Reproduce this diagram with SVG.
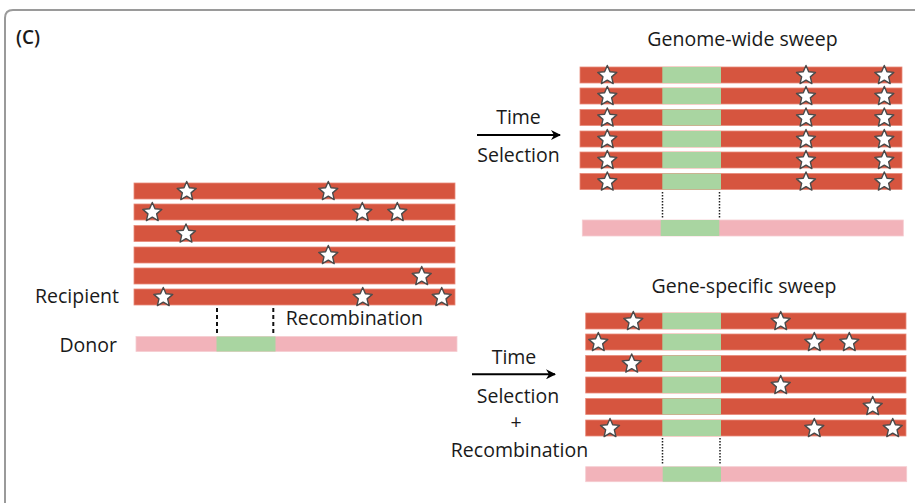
<svg xmlns="http://www.w3.org/2000/svg" xmlns:xlink="http://www.w3.org/1999/xlink" width="915" height="503" viewBox="0 0 915 503">
<style>
.t{font-family:"Open Sans","Noto Sans","DejaVu Sans",sans-serif;font-size:19.5px;fill:#1a1a1a}
.red{fill:#d6553f;stroke:#e88a7a;stroke-width:0.8}
.grn{fill:#a9d5a1}
.pink{fill:#f2b3ba;stroke:#f6ccd1;stroke-width:0.8}
.star{fill:#fff;stroke:#4a4a4a;stroke-width:1.4;stroke-linejoin:round}
.dash{stroke:#111;stroke-width:2;stroke-dasharray:4 3;fill:none}
.dot{stroke:#222;stroke-width:1.5;stroke-dasharray:1.5 1.5;fill:none}
.arr{stroke:#000;stroke-width:2;fill:none}
</style>
<defs>
<path id="s" class="star" d="M0,-10 L2.7,-3.7 L9.5,-3.1 L4.35,1.4 L5.9,8.1 L0,4.6 L-5.9,8.1 L-4.35,1.4 L-9.5,-3.1 L-2.7,-3.7 Z"/>
<marker id="ah" markerWidth="10" markerHeight="10" refX="9" refY="5" orient="auto" markerUnits="userSpaceOnUse" viewBox="0 0 10 10">
<path d="M0,0 L10,5 L0,10 L3,5 Z" fill="#000"/>
</marker>
</defs>
<rect width="915" height="503" fill="#fff"/>
<path d="M5,503 V18 Q5,10 13,10 H915" fill="none" stroke="#9a9a9a" stroke-width="2"/>
<text class="t" x="16" y="44" style="font-size:19px;font-weight:600">(C)</text>

<g id="recipient">
<rect class="red" x="134" y="183" width="321" height="16"/>
<rect class="red" x="134" y="204" width="321" height="16"/>
<rect class="red" x="134" y="225.5" width="321" height="16"/>
<rect class="red" x="134" y="247" width="321" height="16"/>
<rect class="red" x="134" y="268" width="321" height="16"/>
<rect class="red" x="134" y="289" width="321" height="16"/>
<use xlink:href="#s" x="186.7" y="191.5"/>
<use xlink:href="#s" x="328.3" y="191.5"/>
<use xlink:href="#s" x="152.3" y="212.5"/>
<use xlink:href="#s" x="362.3" y="212.5"/>
<use xlink:href="#s" x="397.3" y="212.5"/>
<use xlink:href="#s" x="186" y="234"/>
<use xlink:href="#s" x="328.3" y="255.5"/>
<use xlink:href="#s" x="421.7" y="276.5"/>
<use xlink:href="#s" x="163.3" y="297.5"/>
<use xlink:href="#s" x="362.7" y="297.5"/>
<use xlink:href="#s" x="441.7" y="297.5"/>
<text class="t" x="119" y="303" text-anchor="end">Recipient</text>
</g>

<g id="donor">
<rect class="pink" x="136" y="336.5" width="321" height="15"/>
<rect class="grn" x="216.5" y="336.5" width="59" height="15"/>
<text class="t" x="117" y="352" text-anchor="end">Donor</text>
</g>

<g id="genome-wide">
<text class="t" x="742.5" y="46" text-anchor="middle">Genome-wide sweep</text>
<g>
<rect class="red" x="580" y="67" width="322" height="16"/>
<rect class="red" x="580" y="88" width="322" height="16"/>
<rect class="red" x="580" y="109.5" width="322" height="16"/>
<rect class="red" x="580" y="131" width="322" height="16"/>
<rect class="red" x="580" y="152" width="322" height="16"/>
<rect class="red" x="580" y="173.5" width="322" height="16"/>
<rect class="grn" x="662.3" y="67" width="58.7" height="16"/>
<rect class="grn" x="662.3" y="88" width="58.7" height="16"/>
<rect class="grn" x="662.3" y="109.5" width="58.7" height="16"/>
<rect class="grn" x="662.3" y="131" width="58.7" height="16"/>
<rect class="grn" x="662.3" y="152" width="58.7" height="16"/>
<rect class="grn" x="662.3" y="173.5" width="58.7" height="16"/>
</g>
<g>
<use xlink:href="#s" x="607.3" y="75.5"/><use xlink:href="#s" x="806" y="75.5"/><use xlink:href="#s" x="884.3" y="75.5"/>
<use xlink:href="#s" x="607.3" y="96.5"/><use xlink:href="#s" x="806" y="96.5"/><use xlink:href="#s" x="884.3" y="96.5"/>
<use xlink:href="#s" x="607.3" y="118"/><use xlink:href="#s" x="806" y="118"/><use xlink:href="#s" x="884.3" y="118"/>
<use xlink:href="#s" x="607.3" y="139.5"/><use xlink:href="#s" x="806" y="139.5"/><use xlink:href="#s" x="884.3" y="139.5"/>
<use xlink:href="#s" x="607.3" y="160.5"/><use xlink:href="#s" x="806" y="160.5"/><use xlink:href="#s" x="884.3" y="160.5"/>
<use xlink:href="#s" x="607.3" y="182"/><use xlink:href="#s" x="806" y="182"/><use xlink:href="#s" x="884.3" y="182"/>
</g>
<rect class="pink" x="582.3" y="220" width="321" height="16"/>
<rect class="grn" x="660.7" y="220" width="58.6" height="16"/>
</g>

<g id="gene-specific">
<text class="t" x="744" y="293" text-anchor="middle">Gene-specific sweep</text>
<g>
<rect class="red" x="585.7" y="313" width="320.3" height="16"/>
<rect class="red" x="585.7" y="334" width="320.3" height="16"/>
<rect class="red" x="585.7" y="355.5" width="320.3" height="16"/>
<rect class="red" x="585.7" y="377" width="320.3" height="16"/>
<rect class="red" x="585.7" y="398.5" width="320.3" height="16"/>
<rect class="red" x="585.7" y="420" width="320.3" height="16"/>
<rect class="grn" x="662.3" y="313" width="58.7" height="16"/>
<rect class="grn" x="662.3" y="334" width="58.7" height="16"/>
<rect class="grn" x="662.3" y="355.5" width="58.7" height="16"/>
<rect class="grn" x="662.3" y="377" width="58.7" height="16"/>
<rect class="grn" x="662.3" y="398.5" width="58.7" height="16"/>
<rect class="grn" x="662.3" y="420" width="58.7" height="16"/>
</g>
<g>
<use xlink:href="#s" x="633.3" y="321.5"/><use xlink:href="#s" x="780.7" y="321.5"/>
<use xlink:href="#s" x="598.3" y="342.5"/><use xlink:href="#s" x="814.3" y="342.5"/><use xlink:href="#s" x="849.3" y="342.5"/>
<use xlink:href="#s" x="631.7" y="364"/>
<use xlink:href="#s" x="780.7" y="385.5"/>
<use xlink:href="#s" x="872.7" y="406.5"/>
<use xlink:href="#s" x="610" y="428.5"/><use xlink:href="#s" x="814.3" y="428.5"/><use xlink:href="#s" x="892.7" y="428.5"/>
</g>
<rect class="pink" x="585.7" y="466.7" width="321" height="15"/>
<rect class="grn" x="662.7" y="466.7" width="58.3" height="15"/>
</g>

<g id="connectors">
<line class="dash" x1="217" y1="308" x2="217" y2="335"/>
<line class="dash" x1="273.3" y1="308" x2="273.3" y2="335"/>
<line class="dot" x1="662.5" y1="192" x2="662.5" y2="219"/>
<line class="dot" x1="719.5" y1="192" x2="719.5" y2="219"/>
<line class="dot" x1="662.5" y1="438" x2="662.5" y2="465"/>
<line class="dot" x1="720" y1="438" x2="720" y2="465"/>
<line class="arr" x1="477" y1="135" x2="560" y2="135" marker-end="url(#ah)"/>
<line class="arr" x1="472" y1="374.3" x2="555" y2="374.3" marker-end="url(#ah)"/>
</g>

<g id="labels">
<text class="t" x="285.7" y="325">Recombination</text>
<text class="t" x="518.5" y="124" text-anchor="middle">Time</text>
<text class="t" x="518.5" y="162" text-anchor="middle">Selection</text>
<text class="t" x="514" y="363.5" text-anchor="middle">Time</text>
<text class="t" x="518" y="403" text-anchor="middle">Selection</text>
<text class="t" x="516" y="429" text-anchor="middle">+</text>
<text class="t" x="519.5" y="457" text-anchor="middle">Recombination</text>
</g>
</svg>
